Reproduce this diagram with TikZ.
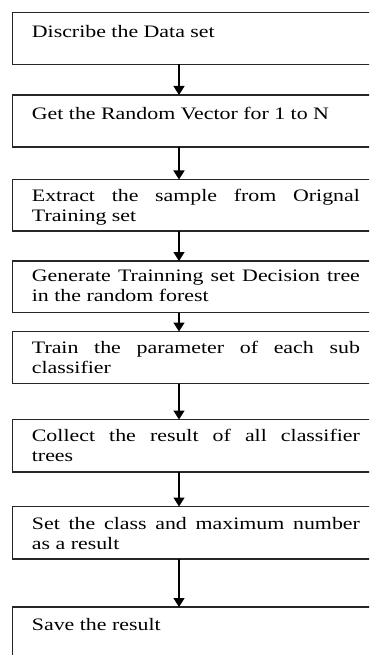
\documentclass[tikz,border=0pt]{standalone}
\usepackage{fontspec}
\setmainfont{Liberation Serif}[FakeStretch=1.25]
\usetikzlibrary{arrows.meta}
\tikzset{
  flowbox/.style={draw=black!85, line width=1.3pt, rectangle, anchor=north west,
    minimum width=367pt, inner sep=0pt, outer sep=0pt},
  linetxt/.style={anchor=base west, inner sep=0pt, font=\fontsize{17.5}{20}\selectfont},
  flowarr/.style={draw=black, line width=1.3pt, -{Triangle[width=11pt,length=9pt]}}
}
\newcommand{\jline}[1]{\makebox[328pt][s]{#1}}
\begin{document}
\begin{tikzpicture}[x=1pt,y=-1pt]
\useasboundingbox (0,0) rectangle (369,655);
\clip (0,0) rectangle (369,655);
\coordinate (ax) at (179,0);
% boxes
\node[flowbox, minimum height=52pt] (b1) at (12.7,12.3) {};
\node[flowbox, minimum height=52pt] (b2) at (12.7,95) {};
\node[flowbox, minimum height=51.5pt] (b3) at (12.7,179.5) {};
\node[flowbox, minimum height=51.5pt] (b4) at (12.7,261) {};
\node[flowbox, minimum height=52pt] (b5) at (12.7,331.5) {};
\node[flowbox, minimum height=52.5pt] (b6) at (12.7,419.5) {};
\node[flowbox, minimum height=52.5pt] (b7) at (12.7,506.5) {};
\node[flowbox, minimum height=80pt] (b8) at (12.7,607) {};
% texts
\node[linetxt] (t1) at (31.7,37.3) {Discribe the Data set};
\node[linetxt] (t2) at (31.7,119.3) {Get the Random Vector for 1 to N};
\node[linetxt] (t3a) at (31.7,201.3) {\jline{Extract the sample from Orignal}};
\node[linetxt] (t3b) at (31.7,221.3) {Training set};
\node[linetxt] (t4a) at (31.7,281.7) {\jline{Generate Trainning set Decision tree}};
\node[linetxt] (t4b) at (31.7,301.7) {in the random forest};
\node[linetxt] (t5a) at (31.7,353.3) {\jline{Train the parameter of each sub}};
\node[linetxt] (t5b) at (31.7,373.3) {classifier};
\node[linetxt] (t6a) at (31.7,441.7) {\jline{Collect the result of all classifier}};
\node[linetxt] (t6b) at (31.7,461.7) {trees};
\node[linetxt] (t7a) at (31.7,529.3) {\jline{Set the class and maximum number}};
\node[linetxt] (t7b) at (31.7,549.3) {as a result};
\node[linetxt] (t8) at (31.7,630) {Save the result};
% arrows
\draw[flowarr] (b1.south -| ax) -- (b2.north -| ax);
\draw[flowarr] (b2.south -| ax) -- (b3.north -| ax);
\draw[flowarr] (b3.south -| ax) -- (b4.north -| ax);
\draw[flowarr] (b4.south -| ax) -- (b5.north -| ax);
\draw[flowarr] (b5.south -| ax) -- (b6.north -| ax);
\draw[flowarr] (b6.south -| ax) -- (b7.north -| ax);
\draw[flowarr] (b7.south -| ax) -- (b8.north -| ax);
\end{tikzpicture}
\end{document}
